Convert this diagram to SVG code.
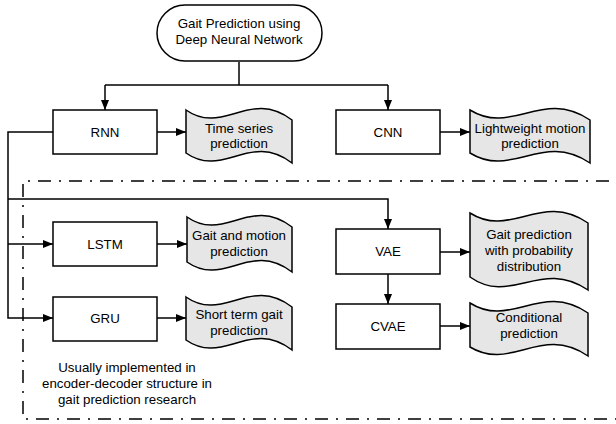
<svg xmlns="http://www.w3.org/2000/svg" width="616" height="424" viewBox="0 0 616 424">
<defs>
<marker id="ah" markerWidth="10" markerHeight="8" refX="10" refY="4" orient="auto" markerUnits="userSpaceOnUse">
<path d="M0,0 L10,4 L0,8 Z" fill="#000"/>
</marker>
<style>
.box{fill:#fff;stroke:#000;stroke-width:1.5}
.doc{fill:#e6e6e6;stroke:#000;stroke-width:1.5}
.t{font-family:"Liberation Sans",Arial,sans-serif;font-size:13.3px;fill:#000;text-anchor:middle}
.c{fill:none;stroke:#000;stroke-width:1.5}
.a{fill:none;stroke:#000;stroke-width:1.5;marker-end:url(#ah)}
.dd{fill:none;stroke:#000;stroke-width:1.5;stroke-dasharray:13 8 2 8}
</style>
</defs>
<rect x="0" y="0" width="616" height="424" fill="#fff"/>

<path class="dd" d="M640,181 L23,181 L23,419 L640,419"/>

<g id="connectors">
<path class="c" d="M239,62 L239,85"/>
<path class="c" d="M105,85 L388,85"/>
<path class="a" d="M105,85 L105,110"/>
<path class="a" d="M388,85 L388,110"/>
<path class="a" d="M157,132 L186,132"/>
<path class="a" d="M440,132 L470,132"/>
<path class="a" d="M53,132 L8,132 L8,318 L53,318"/>
<path class="a" d="M8,244 L53,244"/>
<path class="a" d="M8,199 L388,199 L388,229"/>
<path class="a" d="M157,244 L187,244"/>
<path class="a" d="M157,318 L186,318"/>
<path class="a" d="M440,252 L470,252"/>
<path class="a" d="M388,274 L388,304"/>
<path class="a" d="M440,326 L470,326"/>
</g>

<g id="root">
<rect class="box" x="157" y="5" width="165" height="56" rx="28" ry="28"/>
<text class="t" x="239" y="28">Gait Prediction using</text>
<text class="t" x="239" y="44">Deep Neural Network</text>
</g>

<g id="rnn">
<rect class="box" x="53" y="110" width="104" height="44"/>
<text class="t" x="105" y="136.5">RNN</text>
</g>
<g id="cnn">
<rect class="box" x="336" y="110" width="104" height="44"/>
<text class="t" x="388" y="136.5">CNN</text>
</g>
<g id="lstm">
<rect class="box" x="53" y="222" width="104" height="44"/>
<text class="t" x="105" y="248.5">LSTM</text>
</g>
<g id="gru">
<rect class="box" x="53" y="297" width="104" height="44"/>
<text class="t" x="105" y="323">GRU</text>
</g>
<g id="vae">
<rect class="box" x="336" y="229" width="104" height="45"/>
<text class="t" x="388" y="256">VAE</text>
</g>
<g id="cvae">
<rect class="box" x="336" y="304" width="104" height="45"/>
<text class="t" x="388" y="331">CVAE</text>
</g>

<g id="doc-time">
<path class="doc" d="M186,110 C223,136 250,88 292,120 L292,163 C250,131 223,179 186,153 Z"/>
<text class="t" x="239" y="132.5">Time series</text>
<text class="t" x="239" y="148">prediction</text>
</g>
<g id="doc-light">
<path class="doc" d="M470,110 C512,136 542,88 590,120 L590,163 C542,131 512,179 470,153 Z"/>
<text class="t" x="530" y="132.5">Lightweight motion</text>
<text class="t" x="530" y="148">prediction</text>
</g>
<g id="doc-gait">
<path class="doc" d="M187,217 C224,243 250,195 292,227 L292,272 C250,240 224,288 187,262 Z"/>
<text class="t" x="239" y="239.5">Gait and motion</text>
<text class="t" x="239" y="255.5">prediction</text>
</g>
<g id="doc-short">
<path class="doc" d="M186,297 C223,323 250,275 292,307 L292,350 C250,318 223,366 186,340 Z"/>
<text class="t" x="239" y="318.5">Short term gait</text>
<text class="t" x="239" y="334.5">prediction</text>
</g>
<g id="doc-prob">
<path class="doc" d="M470,213 C511,239 541,191 588,223 L588,290 C541,258 511,306 470,277 Z"/>
<text class="t" x="529" y="238.5">Gait prediction</text>
<text class="t" x="529" y="254.5">with probability</text>
<text class="t" x="529" y="270.5">distribution</text>
</g>
<g id="doc-cond">
<path class="doc" d="M470,303 C511,329 541,281 588,313 L588,356 C541,324 511,372 470,347 Z"/>
<text class="t" x="529" y="321.5">Conditional</text>
<text class="t" x="529" y="337.5">prediction</text>
</g>

<g id="note">
<text class="t" x="127" y="371.5">Usually implemented in</text>
<text class="t" x="127" y="387.5">encoder-decoder structure in</text>
<text class="t" x="127" y="403.5">gait prediction research</text>
</g>
</svg>
